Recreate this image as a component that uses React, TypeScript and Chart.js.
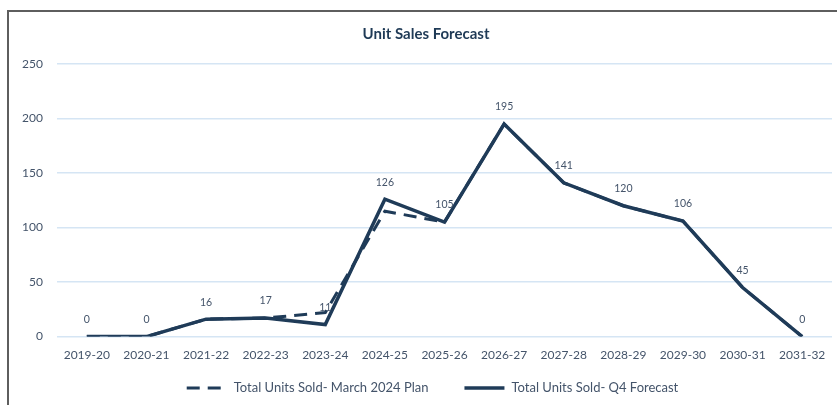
import React, { useEffect, useRef } from "react";
import { Chart, registerables } from "chart.js";

Chart.register(...registerables);

const categories = ["2019-20", "2020-21", "2021-22", "2022-23", "2023-24", "2024-25", "2025-26", "2026-27", "2027-28", "2028-29", "2029-30", "2030-31", "2031-32"];
const planValues = [0, 0, 16, 17, 22, 115, 105, 195, 141, 120, 106, 45, 0];
const forecastValues = [0, 0, 16, 17, 11, 126, 105, 195, 141, 120, 106, 45, 0];
const yTicks = [0, 50, 100, 150, 200, 250];
const seriesNames = ["Total Units Sold- March 2024 Plan", "Total Units Sold- Q4 Forecast"];

const NAVY = "#1f3b58";
const TEXT = "#44546a";
const DASH = [13, 8];

const dataLabelPlugin = {
  id: "dataLabels",
  afterDatasetsDraw(chart: any) {
    const ctx = chart.ctx;
    const meta = chart.getDatasetMeta(1);
    ctx.save();
    ctx.font = "10.5px Lato";
    ctx.fillStyle = TEXT;
    ctx.textAlign = "center";
    ctx.textBaseline = "middle";
    meta.data.forEach((pt: any, i: number) => {
      ctx.fillText(String(forecastValues[i]), pt.x, pt.y - 17);
    });
    ctx.restore();
  },
};

const customLegendPlugin = {
  id: "customLegend",
  afterDraw(chart: any) {
    const ctx = chart.ctx;
    const sampleW = 40;
    const gapSample = 7;
    const gapItems = 36;
    ctx.save();
    ctx.font = "13px Lato";
    const widths = seriesNames.map((n) => ctx.measureText(n).width);
    const total = widths.reduce((a, w) => a + sampleW + gapSample + w, 0) + gapItems * (seriesNames.length - 1);
    const center = (chart.chartArea.left + chart.chartArea.right) / 2 - 12;
    let x = center - total / 2;
    const y = chart.height - 17;
    chart.data.datasets.forEach((ds: any, i: number) => {
      ctx.beginPath();
      ctx.strokeStyle = ds.borderColor;
      ctx.lineWidth = ds.borderWidth;
      ctx.setLineDash(ds.borderDash || []);
      ctx.moveTo(x, y);
      ctx.lineTo(x + sampleW, y);
      ctx.stroke();
      ctx.setLineDash([]);
      x += sampleW + gapSample;
      ctx.fillStyle = TEXT;
      ctx.textAlign = "left";
      ctx.textBaseline = "middle";
      ctx.fillText(seriesNames[i], x, y);
      x += widths[i] + gapItems;
    });
    ctx.restore();
  },
};

export default function App() {
  const ref = useRef<HTMLCanvasElement>(null);
  useEffect(() => {
    if (!ref.current) return;
    const chart = new Chart(ref.current, {
      type: "line",
      data: {
        labels: categories,
        datasets: [
          {
            label: seriesNames[0],
            data: planValues,
            borderColor: NAVY,
            backgroundColor: NAVY,
            borderWidth: 3,
            borderDash: DASH,
            pointRadius: 0,
            tension: 0,
          },
          {
            label: seriesNames[1],
            data: forecastValues,
            borderColor: NAVY,
            backgroundColor: NAVY,
            borderWidth: 3.5,
            pointRadius: 0,
            tension: 0,
          },
        ],
      },
      options: {
        animation: false,
        responsive: false,
        layout: { padding: { left: 20, right: 5, bottom: 40, top: 0 } },
        plugins: {
          title: {
            display: true,
            text: "Unit Sales Forecast",
            color: "#1f3a56",
            font: { family: "Lato", size: 15, weight: "bold" },
            padding: { top: 25, bottom: 21 },
          },
          legend: { display: false },
          tooltip: { enabled: false },
        },
        scales: {
          x: {
            offset: true,
            grid: { display: false },
            border: { display: false },
            ticks: {
              color: TEXT,
              font: { family: "Lato", size: 12 },
              padding: 3,
              maxRotation: 0,
              autoSkip: false,
            },
          },
          y: {
            min: 0,
            max: 250,
            afterBuildTicks(scale: any) {
              scale.ticks = yTicks.map((v) => ({ value: v }));
            },
            afterFit(scale: any) {
              scale.width = 37;
            },
            grid: { color: "#d5e5f4", lineWidth: 1.5, drawTicks: false },
            border: { display: false },
            ticks: {
              color: TEXT,
              font: { family: "Lato", size: 12 },
              padding: 14,
            },
          },
        },
      },
      plugins: [dataLabelPlugin, customLegendPlugin],
    } as any);
    return () => chart.destroy();
  }, []);
  return (
    <div style={{ position: "fixed", left: 0, top: 0, width: 837, height: 405, background: "#fff", overflow: "hidden" }}>
      <canvas ref={ref} width={837} height={405} style={{ display: "block" }} />
      <div
        style={{
          position: "absolute",
          left: 7,
          top: 10,
          width: 840,
          height: 400,
          borderTop: "2px solid #5e5e5e",
          borderLeft: "2px solid #5e5e5e",
          pointerEvents: "none",
        }}
      />
    </div>
  );
}
